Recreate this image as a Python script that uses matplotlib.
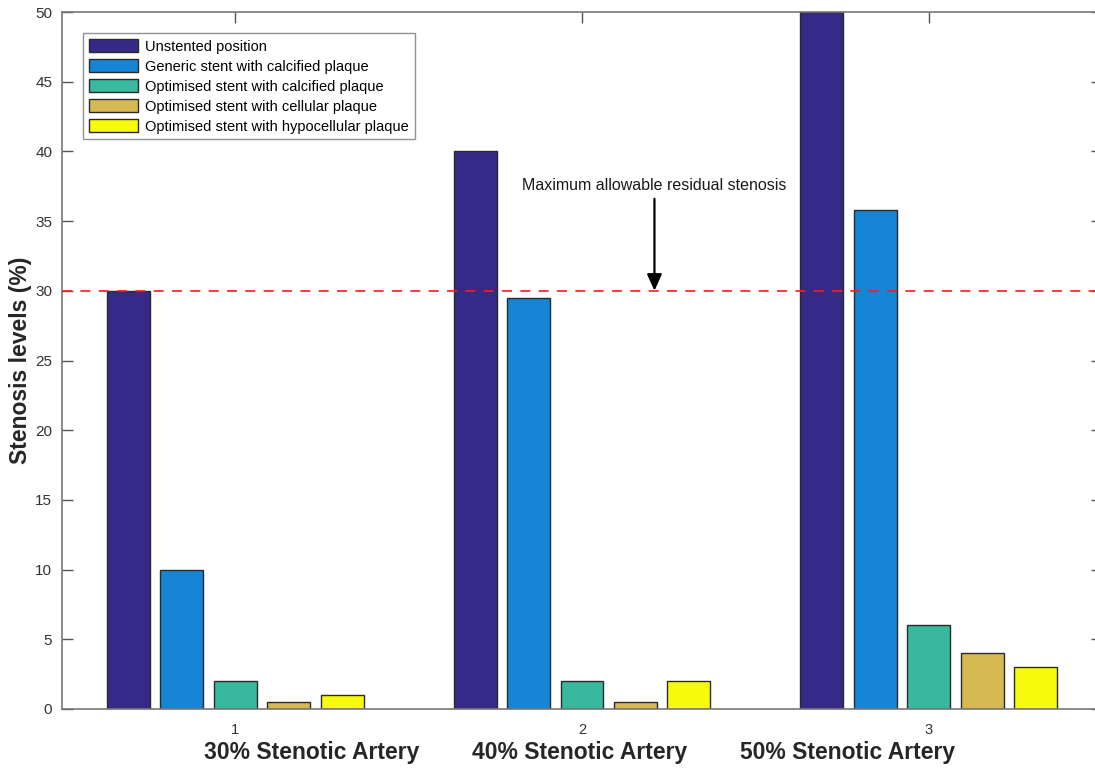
import matplotlib
matplotlib.use("Agg")
import matplotlib.pyplot as plt
import numpy as np

plt.rcParams['font.family'] = ['Liberation Sans', 'DejaVu Sans']

groups = [1, 2, 3]
group_names = ["30% Stenotic Artery", "40% Stenotic Artery", "50% Stenotic Artery"]
series_names = ["Unstented position",
                "Generic stent with calcified plaque",
                "Optimised stent with calcified plaque",
                "Optimised stent with cellular plaque",
                "Optimised stent with hypocellular plaque"]
unstented = [30, 40, 50]
generic_calcified = [10, 29.5, 35.8]
opt_calcified = [2, 2, 6]
opt_cellular = [0.5, 0.5, 4]
opt_hypocellular = [1, 2, 3]
threshold = 30
annotation = "Maximum allowable residual stenosis"

series = [unstented, generic_calcified, opt_calcified, opt_cellular, opt_hypocellular]
colors = ["#352A87", "#1685D5", "#38B89D", "#D6B852", "#F8FA0E"]

fig = plt.figure(figsize=(10.95, 7.71), dpi=100)
ax = fig.add_axes([62/1095, 62/771, 1040/1095, 697/771])

x = np.array(groups, dtype=float)
step = 0.154
width = 0.124
for i, (vals, c, name) in enumerate(zip(series, colors, series_names)):
    ax.bar(x + (i - 2) * step, vals, width=width, color=c, edgecolor="#2a2a2a",
           linewidth=1.0, label=name, zorder=2)

ax.set_xlim(0.5, 3.5)
ax.set_ylim(0, 50)
ax.axhline(threshold, color="#FF1A1A", linestyle=(0, (6, 5)), linewidth=1.2, zorder=3)

ax.annotate("", xy=(2.209, threshold), xytext=(2.209, 36.6),
            arrowprops=dict(arrowstyle="-|>,head_length=1.0,head_width=0.45",
                            color="black", lw=1.6, shrinkA=0, shrinkB=0), zorder=4)
ax.text(2.209, 37.0, annotation, ha="center", va="bottom", fontsize=11.5, color="#1a1a1a")

ax.set_xticks(groups)
ax.set_xticklabels([str(g) for g in groups])
ax.set_yticks(np.arange(0, 51, 5))
ax.tick_params(direction="in", length=8, width=1, colors="#555555", labelcolor="#333333",
               top=True, right=True)
ax.tick_params(axis="y", labelsize=11, pad=7)
ax.tick_params(axis="x", labelsize=10.5, pad=10)
for s in ax.spines.values():
    s.set_color("#777777")
    s.set_linewidth(1.2)

ax.set_ylabel("Stenosis levels (%)", fontsize=16.5, fontweight="bold", color="#262626",
              va="center")
ax.yaxis.set_label_coords((21 - 62) / 1040, 0.5)
label_x = [312, 580, 848]
for lx, name in zip(label_x, group_names):
    fig.text(lx/1095, 1 - 752/771, name, ha="center", va="center",
             fontsize=16.5, fontweight="bold", color="#262626")

leg = ax.legend(loc="upper left", bbox_to_anchor=((83-62)/1040, (709-33)/697),
                fontsize=10.5, frameon=True, fancybox=False, edgecolor="#777777",
                handlelength=3.4, handleheight=1.05, handletextpad=0.45,
                labelspacing=0.36, borderpad=0.4, borderaxespad=0)
leg.get_frame().set_linewidth(1.0)

fig.savefig("out.png", dpi=100)
